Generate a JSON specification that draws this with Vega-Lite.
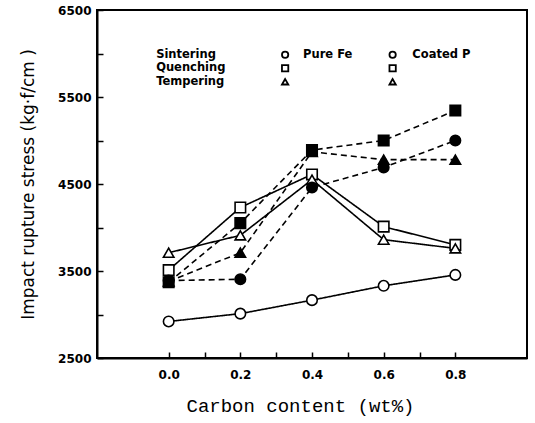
{
  "$schema": "https://vega.github.io/schema/vega-lite/v6.json",
  "width": 430,
  "height": 348,
  "autosize": {"type": "none"},
  "padding": {"left": 97, "top": 10, "right": 8, "bottom": 65},
  "background": "white",
  "config": {
    "view": {"stroke": "black", "strokeWidth": 2},
    "axis": {
      "domainColor": "black", "domainWidth": 2,
      "tickColor": "black", "tickWidth": 1.5, "tickSize": -6,
      "grid": false,
      "labelColor": "black", "labelFont": "DejaVu Sans", "labelFontWeight": "bold", "labelFontSize": 12,
      "titleColor": "black", "titleFontWeight": "normal"
    }
  },
  "datasets": {
    "main": [
      {"c": 0.0, "s": 2920, "process": "Sintering", "material": "Pure Fe", "series": "Sintering Pure Fe"},
      {"c": 0.2, "s": 3010, "process": "Sintering", "material": "Pure Fe", "series": "Sintering Pure Fe"},
      {"c": 0.4, "s": 3165, "process": "Sintering", "material": "Pure Fe", "series": "Sintering Pure Fe"},
      {"c": 0.6, "s": 3330, "process": "Sintering", "material": "Pure Fe", "series": "Sintering Pure Fe"},
      {"c": 0.8, "s": 3455, "process": "Sintering", "material": "Pure Fe", "series": "Sintering Pure Fe"},
      {"c": 0.0, "s": 3510, "process": "Quenching", "material": "Pure Fe", "series": "Quenching Pure Fe"},
      {"c": 0.2, "s": 4230, "process": "Quenching", "material": "Pure Fe", "series": "Quenching Pure Fe"},
      {"c": 0.4, "s": 4610, "process": "Quenching", "material": "Pure Fe", "series": "Quenching Pure Fe"},
      {"c": 0.6, "s": 4010, "process": "Quenching", "material": "Pure Fe", "series": "Quenching Pure Fe"},
      {"c": 0.8, "s": 3800, "process": "Quenching", "material": "Pure Fe", "series": "Quenching Pure Fe"},
      {"c": 0.0, "s": 3710, "process": "Tempering", "material": "Pure Fe", "series": "Tempering Pure Fe"},
      {"c": 0.2, "s": 3910, "process": "Tempering", "material": "Pure Fe", "series": "Tempering Pure Fe"},
      {"c": 0.4, "s": 4550, "process": "Tempering", "material": "Pure Fe", "series": "Tempering Pure Fe"},
      {"c": 0.6, "s": 3860, "process": "Tempering", "material": "Pure Fe", "series": "Tempering Pure Fe"},
      {"c": 0.8, "s": 3760, "process": "Tempering", "material": "Pure Fe", "series": "Tempering Pure Fe"},
      {"c": 0.0, "s": 3390, "process": "Sintering", "material": "Coated P", "series": "Sintering Coated P"},
      {"c": 0.2, "s": 3405, "process": "Sintering", "material": "Coated P", "series": "Sintering Coated P"},
      {"c": 0.4, "s": 4460, "process": "Sintering", "material": "Coated P", "series": "Sintering Coated P"},
      {"c": 0.6, "s": 4690, "process": "Sintering", "material": "Coated P", "series": "Sintering Coated P"},
      {"c": 0.8, "s": 5000, "process": "Sintering", "material": "Coated P", "series": "Sintering Coated P"},
      {"c": 0.0, "s": 3370, "process": "Quenching", "material": "Coated P", "series": "Quenching Coated P"},
      {"c": 0.2, "s": 4050, "process": "Quenching", "material": "Coated P", "series": "Quenching Coated P"},
      {"c": 0.4, "s": 4890, "process": "Quenching", "material": "Coated P", "series": "Quenching Coated P"},
      {"c": 0.6, "s": 5000, "process": "Quenching", "material": "Coated P", "series": "Quenching Coated P"},
      {"c": 0.8, "s": 5345, "process": "Quenching", "material": "Coated P", "series": "Quenching Coated P"},
      {"c": 0.0, "s": 3380, "process": "Tempering", "material": "Coated P", "series": "Tempering Coated P"},
      {"c": 0.2, "s": 3710, "process": "Tempering", "material": "Coated P", "series": "Tempering Coated P"},
      {"c": 0.4, "s": 4870, "process": "Tempering", "material": "Coated P", "series": "Tempering Coated P"},
      {"c": 0.6, "s": 4780, "process": "Tempering", "material": "Coated P", "series": "Tempering Coated P"},
      {"c": 0.8, "s": 4780, "process": "Tempering", "material": "Coated P", "series": "Tempering Coated P"}
    ],
    "legendText": [
      {"lx": -0.035, "ly": 5985, "label": "Sintering"},
      {"lx": -0.035, "ly": 5830, "label": "Quenching"},
      {"lx": -0.035, "ly": 5675, "label": "Tempering"},
      {"lx": 0.375, "ly": 5985, "label": "Pure Fe"},
      {"lx": 0.68, "ly": 5985, "label": "Coated P"}
    ],
    "legendSymbols": [
      {"lx": 0.325, "ly": 5985, "process": "Sintering"},
      {"lx": 0.325, "ly": 5830, "process": "Quenching"},
      {"lx": 0.325, "ly": 5675, "process": "Tempering"},
      {"lx": 0.625, "ly": 5985, "process": "Sintering"},
      {"lx": 0.625, "ly": 5830, "process": "Quenching"},
      {"lx": 0.625, "ly": 5675, "process": "Tempering"}
    ]
  },
  "layer": [
    {
      "data": {"name": "main"},
      "mark": {"type": "line", "color": "black", "strokeWidth": 1.6},
      "encoding": {
        "x": {
          "field": "c", "type": "quantitative",
          "scale": {"domain": [-0.2, 1.0], "nice": false, "zero": false},
          "axis": {
            "values": [0, 0.1, 0.2, 0.3, 0.4, 0.5, 0.6, 0.7, 0.8],
            "format": ".1f",
            "labelExpr": "round(datum.value*10) % 2 == 0 ? datum.label : ''",
            "labelPadding": 17,
            "title": "Carbon content (wt%)",
            "titleFont": "Liberation Mono", "titleFontSize": 19, "titlePadding": 16,
            "titleX": 203
          }
        },
        "y": {
          "field": "s", "type": "quantitative",
          "scale": {"domain": [2500, 6500], "nice": false, "zero": false},
          "axis": {
            "values": [2500, 3000, 3500, 4000, 4500, 5000, 5500, 6000, 6500],
            "format": "d",
            "labelExpr": "datum.value % 1000 == 500 ? datum.label : ''",
            "labelPadding": 12,
            "title": "Impact rupture stress (kg·f/cm )",
            "titleFont": "DejaVu Sans", "titleFontSize": 17, "titlePadding": 20
          }
        },
        "detail": {"field": "series"},
        "strokeDash": {
          "field": "material", "type": "nominal",
          "scale": {"domain": ["Pure Fe", "Coated P"], "range": [[1, 0], [6, 4]]},
          "legend": null
        }
      }
    },
    {
      "data": {"name": "main"},
      "mark": {"type": "point", "filled": true, "stroke": "black", "strokeWidth": 1.6, "size": 110, "opacity": 1},
      "encoding": {
        "x": {"field": "c", "type": "quantitative"},
        "y": {"field": "s", "type": "quantitative"},
        "shape": {
          "field": "process", "type": "nominal",
          "scale": {"domain": ["Sintering", "Quenching", "Tempering"], "range": ["circle", "square", "triangle-up"]},
          "legend": null
        },
        "fill": {
          "field": "material", "type": "nominal",
          "scale": {"domain": ["Pure Fe", "Coated P"], "range": ["white", "black"]},
          "legend": null
        }
      }
    },
    {
      "data": {"name": "legendText"},
      "mark": {"type": "text", "align": "left", "baseline": "middle", "font": "DejaVu Sans", "fontWeight": "bold", "fontSize": 11.5, "color": "black"},
      "encoding": {
        "x": {"field": "lx", "type": "quantitative"},
        "y": {"field": "ly", "type": "quantitative"},
        "text": {"field": "label"}
      }
    },
    {
      "data": {"name": "legendSymbols"},
      "mark": {"type": "point", "filled": true, "fill": "white", "stroke": "black", "strokeWidth": 1.8, "size": 40, "opacity": 1},
      "encoding": {
        "x": {"field": "lx", "type": "quantitative"},
        "y": {"field": "ly", "type": "quantitative"},
        "shape": {"field": "process", "type": "nominal"}
      }
    }
  ]
}
